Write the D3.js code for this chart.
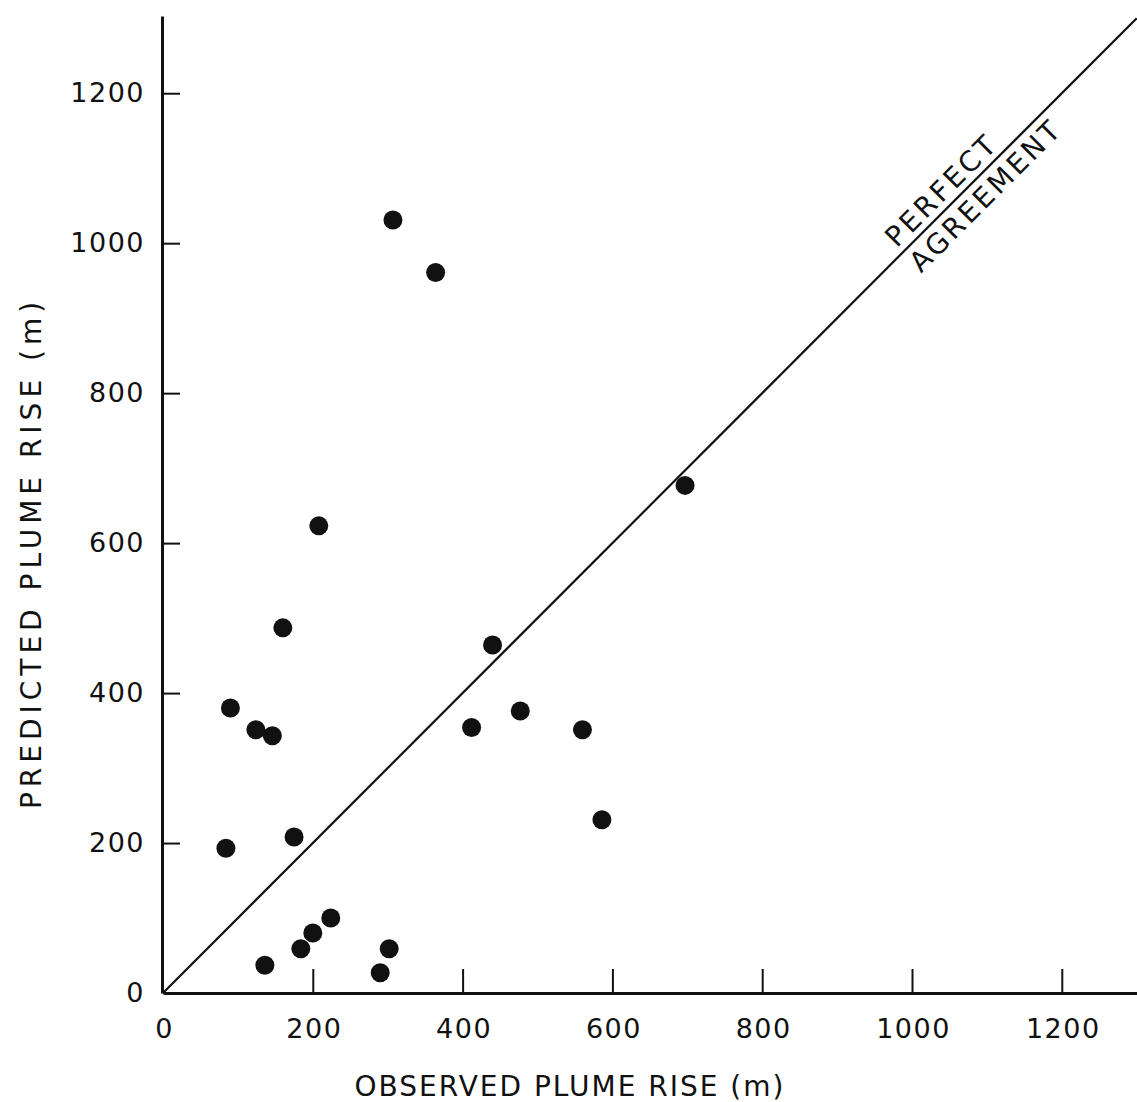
<!DOCTYPE html>
<html><head><meta charset="utf-8">
<script src="https://cdn.jsdelivr.net/npm/d3@7"></script>
<style>
html,body{margin:0;padding:0;background:#fff;}
text{font-family:"DejaVu Sans",sans-serif;fill:#111;}
</style></head>
<body>
<script>
const observed  = [307, 364, 697, 208, 160, 440, 90, 124, 146, 412, 477, 560, 586, 84, 175, 224, 200, 184, 302, 136, 290];
const predicted = [1031, 961, 677, 623, 487, 464, 380, 351, 343, 354, 376, 351, 231, 193, 208, 100, 80, 59, 59, 37, 27];
const xTicks = [0, 200, 400, 600, 800, 1000, 1200];
const yTicks = [0, 200, 400, 600, 800, 1000, 1200];
const lineLabels = ["PERFECT", "AGREEMENT"];
const xTitle = "OBSERVED PLUME RISE (m)";
const yTitle = "PREDICTED PLUME RISE (m)";

const W = 1137, H = 1102;
const svg = d3.select("body").append("svg").attr("width", W).attr("height", H);

const x = d3.scaleLinear().domain([0, 1300]).range([163, 163 + 1300 * 0.749]);
const y = d3.scaleLinear().domain([0, 1303]).range([993, 16]);

// perfect agreement line
svg.append("line")
  .attr("x1", x(0)).attr("y1", y(0))
  .attr("x2", x(1300)).attr("y2", y(1300))
  .attr("stroke", "#111").attr("stroke-width", 2.2);

// X axis
const gx = svg.append("g").attr("transform", `translate(0,${y(0)})`)
  .call(d3.axisBottom(x).tickValues(xTicks).tickSizeInner(-24).tickSizeOuter(0).tickPadding(26).tickFormat(d3.format("d")));
gx.select(".domain").attr("stroke", "#111").attr("stroke-width", 3);
gx.selectAll(".tick line").attr("stroke", "#111").attr("stroke-width", 2)
  .filter(d => d === 0).remove();
gx.selectAll(".tick text").attr("font-size", 27).attr("letter-spacing", "1.5px")
  .attr("font-family", "DejaVu Sans").attr("fill", "#111").attr("dx", "1px");

// Y axis
const gy = svg.append("g").attr("transform", `translate(${x(0) - 1},0)`)
  .call(d3.axisLeft(y).tickValues(yTicks).tickSizeInner(-18).tickSizeOuter(0).tickPadding(17).tickFormat(d3.format("d")));
gy.select(".domain").attr("stroke", "#111").attr("stroke-width", 3);
gy.selectAll(".tick line").attr("stroke", "#111").attr("stroke-width", 2)
  .filter(d => d === 0).remove();
gy.selectAll(".tick text").attr("font-size", 27).attr("letter-spacing", "1.5px")
  .attr("font-family", "DejaVu Sans").attr("fill", "#111");

// points
svg.append("g").selectAll("circle")
  .data(observed.map((o, i) => ({o, p: predicted[i]})))
  .join("circle")
  .attr("cx", d => x(d.o)).attr("cy", d => y(d.p))
  .attr("r", 9.5).attr("fill", "#111");

// line labels
const ang = Math.atan2(y(1000) - y(0), x(1000) - x(0)) * 180 / Math.PI;
[[lineLabels[0], 1055, -7], [lineLabels[1], 1081, 28]].forEach(([t, v, dy]) => {
  svg.append("text")
    .attr("transform", `translate(${x(v)},${y(v)}) rotate(${ang})`)
    .attr("text-anchor", "middle").attr("dy", dy)
    .attr("font-size", 28).attr("letter-spacing", "3px")
    .text(t);
});

// axis titles
svg.append("text").attr("x", 570).attr("y", 1096).attr("text-anchor", "middle")
  .attr("font-size", 28).attr("letter-spacing", "2px").text(xTitle);
svg.append("text").attr("transform", "translate(41,553) rotate(-90)").attr("text-anchor", "middle")
  .attr("font-size", 28).attr("letter-spacing", "5px").text(yTitle);
</script>
</body></html>
